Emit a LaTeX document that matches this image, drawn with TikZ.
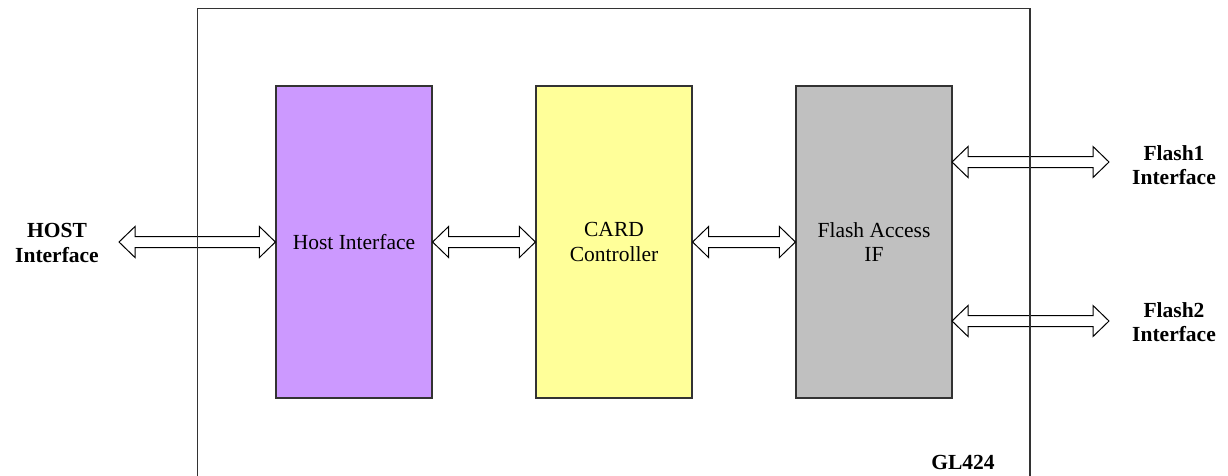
\documentclass[tikz,border=0pt]{standalone}
\usepackage{fontspec}
\setmainfont{Liberation Serif}
\usetikzlibrary{calc}
\definecolor{hostc}{HTML}{CC99FF}
\definecolor{cardc}{HTML}{FFFF99}
\definecolor{flashc}{HTML}{C0C0C0}
\definecolor{edgec}{HTML}{333333}
\tikzset{
  blockbox/.style={draw=edgec, line width=1.2pt, minimum width=156pt, minimum height=312pt, inner sep=0pt, align=center, font=\fontsize{21.5}{24.5}\selectfont},
  lbl/.style={align=center, font=\fontsize{21.5}{24.5}\selectfont\bfseries},
  biarr/.style={draw=black, fill=white, line width=1pt, line join=miter},
}
\newcommand\biarrow[2]{%
  \path[biarr] let \p1=(#1), \p2=(#2) in
    (\x1,\y1) -- (\x1+16pt,\y1+15.5pt) -- (\x1+16pt,\y1+5.5pt) -- (\x2-16pt,\y1+5.5pt)
    -- (\x2-16pt,\y1+15.5pt) -- (\x2,\y1) -- (\x2-16pt,\y1-15.5pt) -- (\x2-16pt,\y1-5.5pt)
    -- (\x1+16pt,\y1-5.5pt) -- (\x1+16pt,\y1-15.5pt) -- cycle;}
\begin{document}
\begin{tikzpicture}[x=1pt,y=-1pt]
\useasboundingbox (0,0) rectangle (1228,475);
% blocks
\node[blockbox, fill=hostc] (host) at (354,242) {Host Interface};
\node[blockbox, fill=cardc] (card) at (614,242) {CARD\\Controller};
\node[blockbox, fill=flashc] (fa) at (874,242) {Flash Access\\IF};
% labels
\node[lbl] (hostlbl) at (57,243) {HOST\\Interface};
\node[lbl] (f1lbl) at (1174,165) {Flash1\\Interface};
\node[lbl] (f2lbl) at (1174,322) {Flash2\\Interface};
\node[lbl] (chip) at (963,462) {GL424};
% arrow ends
\coordinate (ha) at (119,242);
\coordinate (f1a) at (952,162);
\coordinate (f1b) at (1109,162);
\coordinate (f2a) at (952,321);
\coordinate (f2b) at (1109,321);
% arrows
\biarrow{ha}{host.west}
\biarrow{host.east}{card.west}
\biarrow{card.east}{fa.west}
\biarrow{f1a}{f1b}
\biarrow{f2a}{f2b}
% outer chip box
\draw[edgec, line width=1.3pt] (197.5,490) -- (197.5,8.5) -- (1030,8.5) -- (1030,490);
\end{tikzpicture}
\end{document}
